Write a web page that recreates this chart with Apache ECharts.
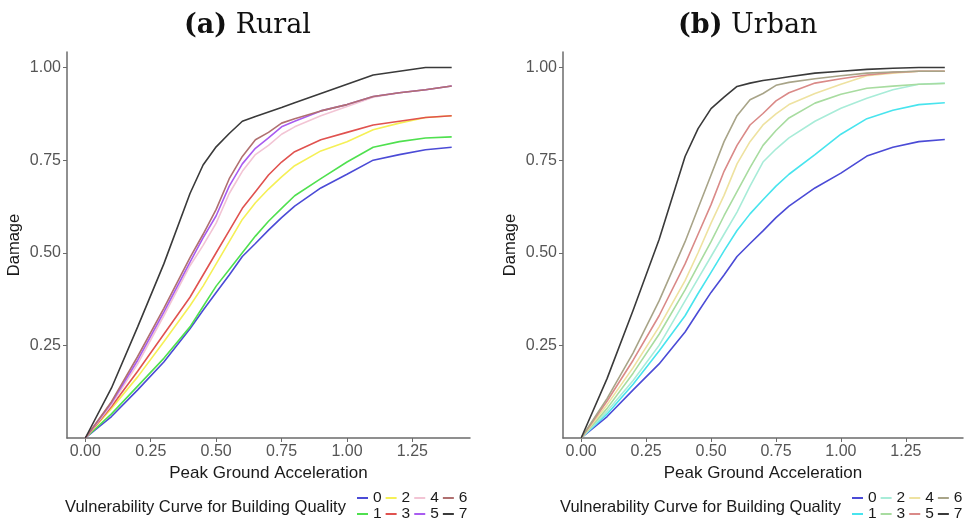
<!DOCTYPE html>
<html>
<head>
<meta charset="utf-8">
<script src="https://cdn.jsdelivr.net/npm/echarts@6/dist/echarts.min.js"></script>
<style>
  html, body { margin: 0; padding: 0; background: #fff; }
  #chart { width: 967px; height: 523px; }
</style>
</head>
<body>
<div id="chart"></div>
<script>
// peak ground acceleration sample points
var pga = [0, 0.1, 0.2, 0.3, 0.4, 0.45, 0.5, 0.55, 0.6, 0.65, 0.7, 0.75, 0.8, 0.9, 1.0, 1.1, 1.2, 1.3, 1.4];

// (a) Rural, building quality 0..7
var rural0 = [0, 0.058, 0.13, 0.205, 0.295, 0.345, 0.393, 0.44, 0.49, 0.525, 0.561, 0.595, 0.626, 0.675, 0.712, 0.75, 0.765, 0.778, 0.785];
var rural1 = [0, 0.065, 0.14, 0.215, 0.30, 0.355, 0.41, 0.455, 0.50, 0.545, 0.585, 0.62, 0.654, 0.70, 0.745, 0.785, 0.80, 0.81, 0.813];
var rural2 = [0, 0.08, 0.165, 0.26, 0.357, 0.41, 0.47, 0.53, 0.59, 0.635, 0.672, 0.705, 0.735, 0.775, 0.80, 0.832, 0.85, 0.865, 0.87];
var rural3 = [0, 0.085, 0.18, 0.28, 0.38, 0.44, 0.50, 0.56, 0.62, 0.665, 0.71, 0.745, 0.773, 0.805, 0.825, 0.845, 0.855, 0.865, 0.87];
var rural4 = [0, 0.09, 0.20, 0.33, 0.465, 0.52, 0.58, 0.66, 0.72, 0.765, 0.79, 0.82, 0.84, 0.87, 0.895, 0.92, 0.932, 0.94, 0.95];
var rural5 = [0, 0.095, 0.21, 0.34, 0.475, 0.54, 0.60, 0.68, 0.74, 0.782, 0.81, 0.84, 0.855, 0.883, 0.90, 0.922, 0.932, 0.94, 0.95];
var rural6 = [0, 0.098, 0.22, 0.35, 0.487, 0.55, 0.617, 0.70, 0.76, 0.805, 0.825, 0.85, 0.862, 0.883, 0.90, 0.922, 0.932, 0.94, 0.95];
var rural7 = [0, 0.135, 0.30, 0.47, 0.66, 0.737, 0.786, 0.822, 0.855, 0.868, 0.88, 0.892, 0.905, 0.93, 0.955, 0.98, 0.99, 1.0, 1.0];

// (b) Urban, building quality 0..7
var urban0 = [0, 0.058, 0.13, 0.20, 0.286, 0.34, 0.393, 0.44, 0.49, 0.525, 0.559, 0.595, 0.626, 0.675, 0.715, 0.761, 0.785, 0.80, 0.806];
var urban1 = [0, 0.065, 0.145, 0.235, 0.33, 0.39, 0.447, 0.505, 0.56, 0.605, 0.643, 0.68, 0.712, 0.765, 0.82, 0.862, 0.885, 0.90, 0.905];
var urban2 = [0, 0.072, 0.155, 0.25, 0.37, 0.43, 0.49, 0.55, 0.61, 0.68, 0.745, 0.78, 0.81, 0.855, 0.89, 0.917, 0.94, 0.955, 0.958];
var urban3 = [0, 0.08, 0.175, 0.28, 0.40, 0.465, 0.53, 0.60, 0.665, 0.73, 0.79, 0.83, 0.864, 0.904, 0.928, 0.944, 0.95, 0.955, 0.957];
var urban4 = [0, 0.09, 0.19, 0.30, 0.425, 0.50, 0.58, 0.655, 0.74, 0.80, 0.845, 0.875, 0.90, 0.93, 0.955, 0.978, 0.985, 0.99, 0.99];
var urban5 = [0, 0.10, 0.21, 0.33, 0.47, 0.55, 0.63, 0.72, 0.79, 0.845, 0.876, 0.91, 0.932, 0.958, 0.97, 0.98, 0.987, 0.99, 0.99];
var urban6 = [0, 0.107, 0.23, 0.37, 0.53, 0.62, 0.71, 0.80, 0.87, 0.913, 0.93, 0.952, 0.96, 0.97, 0.978, 0.985, 0.988, 0.99, 0.99];
var urban7 = [0, 0.161, 0.345, 0.536, 0.76, 0.835, 0.889, 0.92, 0.949, 0.958, 0.965, 0.97, 0.975, 0.985, 0.99, 0.995, 0.998, 1.0, 1.0];

var qualities = ['0', '1', '2', '3', '4', '5', '6', '7'];
var ruralColors = ['#4b4bd6', '#4fe04f', '#f5f056', '#e0524f', '#f2c4d4', '#a95cf0', '#b07070', '#3a3a3a'];
var urbanColors = ['#4b4bd6', '#48e4ee', '#a8ecd8', '#a8dca0', '#eee2a0', '#da8a88', '#a8a488', '#3a3a3a'];

var xTicks = [0, 0.25, 0.5, 0.75, 1.0, 1.25];
var yTicks = [0.25, 0.5, 0.75, 1.0];

var ruralSets = [rural0, rural1, rural2, rural3, rural4, rural5, rural6, rural7];
var urbanSets = [urban0, urban1, urban2, urban3, urban4, urban5, urban6, urban7];

function pairs(ys) {
  return pga.map(function (x, i) { return [x, ys[i]]; });
}

var axisGray = '#6b6b6b';
var labelGray = '#555';

function xAxis(idx) {
  return {
    type: 'value', gridIndex: idx, min: -0.07, max: 1.47,
    name: 'Peak Ground Acceleration', nameLocation: 'middle', nameGap: 22,
    nameTextStyle: { color: '#1a1a1a', fontSize: 17, fontFamily: 'Liberation Sans' },
    axisLine: { onZero: false, lineStyle: { color: axisGray, width: 1.5 } },
    axisTick: { show: true, length: 4, customValues: xTicks, lineStyle: { color: axisGray } },
    axisLabel: { customValues: xTicks, color: labelGray, fontSize: 16, margin: 6,
      fontFamily: 'Liberation Sans', formatter: function (v) { return v.toFixed(2); } },
    splitLine: { show: false }
  };
}
function yAxis(idx) {
  return {
    type: 'value', gridIndex: idx, min: 0, max: 1.042,
    name: 'Damage', nameLocation: 'middle', nameGap: 44,
    nameTextStyle: { color: '#1a1a1a', fontSize: 16.5, fontFamily: 'Liberation Sans' },
    axisLine: { show: true, onZero: false, lineStyle: { color: axisGray, width: 1.5 } },
    axisTick: { show: true, length: 4, customValues: yTicks, lineStyle: { color: axisGray } },
    axisLabel: { customValues: yTicks, color: labelGray, fontSize: 16, margin: 6,
      fontFamily: 'Liberation Sans', formatter: function (v) { return v.toFixed(2); } },
    splitLine: { show: false }
  };
}

var series = [];
qualities.forEach(function (q, i) {
  series.push({
    name: q, type: 'line', xAxisIndex: 0, yAxisIndex: 0,
    data: pairs(ruralSets[i]), symbol: 'none', silent: true,
    lineStyle: { width: 1.6, color: ruralColors[i] }, itemStyle: { color: ruralColors[i] }
  });
});
qualities.forEach(function (q, i) {
  series.push({
    name: 'u' + q, type: 'line', xAxisIndex: 1, yAxisIndex: 1,
    data: pairs(urbanSets[i]), symbol: 'none', silent: true,
    lineStyle: { width: 1.6, color: urbanColors[i] }, itemStyle: { color: urbanColors[i] }
  });
});

function legendRow(names, left, top, prefix) {
  return {
    data: names.map(function (n) { return prefix + n; }),
    left: left, top: top, width: 200, padding: 0, orient: 'horizontal',
    icon: 'rect', itemWidth: 11, itemHeight: 2, itemGap: 4,
    selectedMode: false,
    formatter: function (n) { return n.replace('u', ''); },
    textStyle: { color: '#1a1a1a', fontSize: 15.5, fontFamily: 'Liberation Sans' }
  };
}

var titleRich = { b: { fontWeight: 'bold', fontSize: 27, fontFamily: 'DejaVu Serif', fill: '#111' } };

var chart = echarts.init(document.getElementById('chart'));
chart.setOption({
  animation: false,
  grid: [
    { left: 67, right: 497, top: 52, bottom: 85 },
    { left: 563, right: 4, top: 52, bottom: 85 }
  ],
  xAxis: [xAxis(0), xAxis(1)],
  yAxis: [yAxis(0), yAxis(1)],
  legend: [
    legendRow(['0', '2', '4', '6'], 357, 490, ''),
    legendRow(['1', '3', '5', '7'], 357, 506, ''),
    legendRow(['0', '2', '4', '6'], 852, 490, 'u'),
    legendRow(['1', '3', '5', '7'], 852, 506, 'u')
  ],
  graphic: [
    { type: 'text', left: 184, top: 12, style: {
        text: '{b|(a)} Rural', fill: '#111', rich: titleRich,
        fontSize: 27, fontFamily: 'DejaVu Serif' } },
    { type: 'text', left: 678, top: 12, style: {
        text: '{b|(b)} Urban', fill: '#111', rich: titleRich,
        fontSize: 27, fontFamily: 'DejaVu Serif' } },
    { type: 'text', left: 65, top: 499, style: {
        text: 'Vulnerability Curve for Building Quality', fill: '#1a1a1a',
        fontSize: 16.5, fontFamily: 'Liberation Sans' } },
    { type: 'text', left: 560, top: 499, style: {
        text: 'Vulnerability Curve for Building Quality', fill: '#1a1a1a',
        fontSize: 16.5, fontFamily: 'Liberation Sans' } }
  ],
  series: series
});
</script>
</body>
</html>
